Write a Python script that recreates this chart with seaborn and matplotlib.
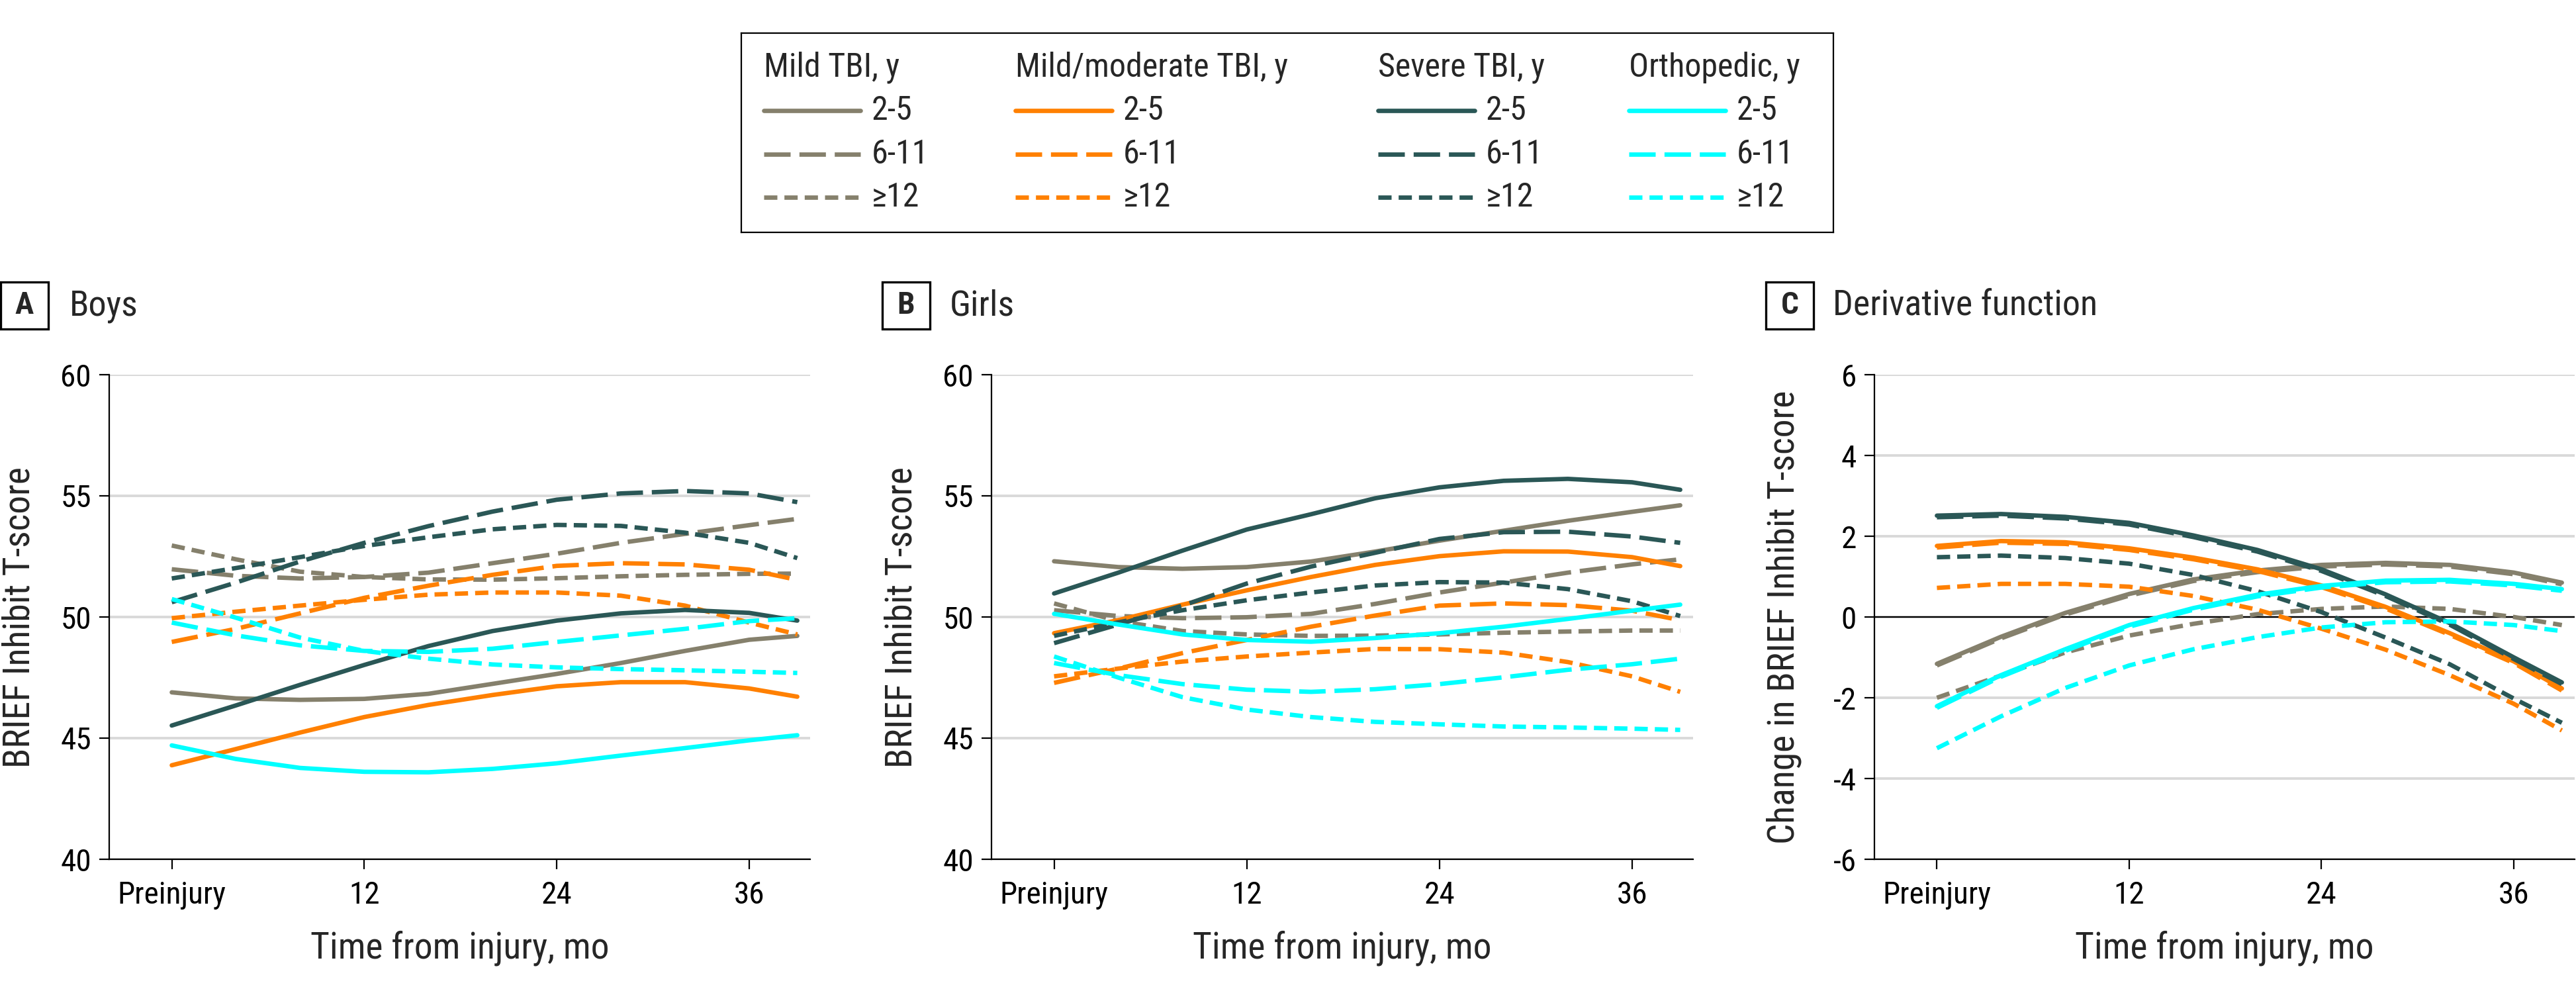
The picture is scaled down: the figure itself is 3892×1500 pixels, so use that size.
#!/usr/bin/env python
# coding: utf-8
"""BRIEF Inhibit T-score trajectories by injury group and age at injury."""

import pandas as pd
import seaborn as sns
from matplotlib import pyplot as plt
from matplotlib import font_manager
from matplotlib.patches import Rectangle

MONTHS = [0, 4, 8, 12, 16, 20, 24, 28, 32, 36, 39]
GROUPS = ["Mild TBI", "Mild/moderate TBI", "Severe TBI", "Orthopedic"]
AGES = ["2-5", "6-11", "≥12"]
XTICKS = [0, 12, 24, 36]
XTICKLABELS = ["Preinjury", "12", "24", "36"]

# panel A, boys
boys_mild_2_5 = [46.89, 46.64, 46.58, 46.62, 46.83, 47.24, 47.65, 48.10, 48.60, 49.06, 49.22]
boys_mild_6_11 = [51.97, 51.70, 51.59, 51.65, 51.83, 52.22, 52.61, 53.06, 53.43, 53.79, 54.05]
boys_mild_12 = [52.95, 52.38, 51.87, 51.65, 51.55, 51.54, 51.60, 51.68, 51.74, 51.78, 51.79]
boys_mm_2_5 = [43.88, 44.55, 45.23, 45.87, 46.37, 46.78, 47.14, 47.31, 47.31, 47.05, 46.71]
boys_mm_6_11 = [48.97, 49.51, 50.15, 50.79, 51.29, 51.74, 52.11, 52.22, 52.17, 51.95, 51.53]
boys_mm_12 = [49.95, 50.22, 50.47, 50.71, 50.92, 51.01, 51.01, 50.88, 50.47, 49.77, 49.28]
boys_sev_2_5 = [45.52, 46.35, 47.20, 48.02, 48.80, 49.42, 49.85, 50.15, 50.29, 50.17, 49.85]
boys_sev_6_11 = [50.61, 51.42, 52.29, 53.06, 53.75, 54.35, 54.84, 55.10, 55.20, 55.10, 54.74]
boys_sev_12 = [51.59, 52.02, 52.47, 52.93, 53.29, 53.62, 53.80, 53.76, 53.48, 53.06, 52.43]
boys_orth_2_5 = [44.70, 44.14, 43.77, 43.61, 43.59, 43.73, 43.96, 44.28, 44.59, 44.91, 45.12]
boys_orth_6_11 = [49.77, 49.24, 48.83, 48.60, 48.56, 48.69, 48.97, 49.24, 49.51, 49.83, 49.95]
boys_orth_12 = [50.74, 49.97, 49.15, 48.60, 48.28, 48.04, 47.92, 47.85, 47.80, 47.74, 47.69]

# panel B, girls
girls_mild_2_5 = [52.30, 52.06, 51.99, 52.06, 52.29, 52.70, 53.15, 53.56, 53.97, 54.34, 54.61]
girls_mild_6_11 = [50.28, 50.04, 49.95, 49.99, 50.13, 50.54, 51.01, 51.42, 51.83, 52.17, 52.38]
girls_mild_12 = [50.56, 49.83, 49.42, 49.28, 49.22, 49.23, 49.28, 49.35, 49.40, 49.44, 49.44]
girls_mm_2_5 = [49.33, 49.87, 50.51, 51.10, 51.65, 52.15, 52.51, 52.71, 52.70, 52.47, 52.10]
girls_mm_6_11 = [47.28, 47.87, 48.51, 49.05, 49.60, 50.06, 50.47, 50.56, 50.49, 50.26, 49.87]
girls_mm_12 = [47.55, 47.87, 48.16, 48.37, 48.53, 48.68, 48.67, 48.53, 48.14, 47.55, 46.91]
girls_sev_2_5 = [50.97, 51.83, 52.74, 53.61, 54.24, 54.90, 55.35, 55.62, 55.70, 55.56, 55.25]
girls_sev_6_11 = [48.92, 49.69, 50.47, 51.38, 52.08, 52.65, 53.22, 53.50, 53.52, 53.32, 53.06]
girls_sev_12 = [49.22, 49.78, 50.28, 50.69, 51.01, 51.30, 51.44, 51.42, 51.15, 50.65, 50.04]
girls_orth_2_5 = [50.13, 49.69, 49.28, 49.05, 48.98, 49.13, 49.33, 49.60, 49.92, 50.26, 50.51]
girls_orth_6_11 = [48.10, 47.60, 47.23, 47.00, 46.91, 47.02, 47.23, 47.51, 47.82, 48.05, 48.28]
girls_orth_12 = [48.37, 47.50, 46.69, 46.18, 45.87, 45.67, 45.57, 45.48, 45.44, 45.39, 45.34]

# panel C, derivative function
deriv_mild_2_5 = [-1.16, -0.49, 0.10, 0.57, 0.93, 1.15, 1.29, 1.34, 1.29, 1.10, 0.85]
deriv_mild_6_11 = [-1.20, -0.53, 0.06, 0.53, 0.89, 1.11, 1.25, 1.30, 1.25, 1.06, 0.81]
deriv_mild_12 = [-2.00, -1.45, -0.88, -0.46, -0.17, 0.07, 0.20, 0.26, 0.20, 0.00, -0.20]
deriv_mm_2_5 = [1.76, 1.88, 1.85, 1.70, 1.47, 1.18, 0.78, 0.25, -0.40, -1.10, -1.77]
deriv_mm_6_11 = [1.72, 1.84, 1.81, 1.66, 1.43, 1.14, 0.74, 0.21, -0.44, -1.14, -1.82]
deriv_mm_12 = [0.72, 0.82, 0.82, 0.75, 0.52, 0.18, -0.29, -0.81, -1.44, -2.15, -2.81]
deriv_sev_2_5 = [2.51, 2.55, 2.48, 2.33, 2.02, 1.66, 1.18, 0.56, -0.15, -1.00, -1.62]
deriv_sev_6_11 = [2.47, 2.51, 2.44, 2.29, 1.98, 1.62, 1.14, 0.52, -0.19, -1.04, -1.66]
deriv_sev_12 = [1.48, 1.52, 1.46, 1.32, 1.04, 0.64, 0.12, -0.51, -1.17, -2.02, -2.62]
deriv_orth_2_5 = [-2.21, -1.44, -0.80, -0.20, 0.22, 0.55, 0.77, 0.90, 0.92, 0.82, 0.69]
deriv_orth_6_11 = [-2.25, -1.48, -0.84, -0.24, 0.18, 0.51, 0.73, 0.86, 0.88, 0.78, 0.65]
deriv_orth_12 = [-3.25, -2.46, -1.76, -1.20, -0.80, -0.50, -0.26, -0.13, -0.11, -0.20, -0.35]

PALETTE = {"Mild TBI": "#85806c", "Mild/moderate TBI": "#ff8000",
           "Severe TBI": "#2a5756", "Orthopedic": "#00ffff"}
DASHES = {"2-5": "", "6-11": (6, 2), "≥12": (3, 1.6)}
LW = 2.4

curves = {
    "A": [boys_mild_2_5, boys_mild_6_11, boys_mild_12,
          boys_mm_2_5, boys_mm_6_11, boys_mm_12,
          boys_sev_2_5, boys_sev_6_11, boys_sev_12,
          boys_orth_2_5, boys_orth_6_11, boys_orth_12],
    "B": [girls_mild_2_5, girls_mild_6_11, girls_mild_12,
          girls_mm_2_5, girls_mm_6_11, girls_mm_12,
          girls_sev_2_5, girls_sev_6_11, girls_sev_12,
          girls_orth_2_5, girls_orth_6_11, girls_orth_12],
    "C": [deriv_mild_2_5, deriv_mild_6_11, deriv_mild_12,
          deriv_mm_2_5, deriv_mm_6_11, deriv_mm_12,
          deriv_sev_2_5, deriv_sev_6_11, deriv_sev_12,
          deriv_orth_2_5, deriv_orth_6_11, deriv_orth_12],
}

rows = []
for panel, series in curves.items():
    i = 0
    for group in GROUPS:
        for age in AGES:
            for m, v in zip(MONTHS, series[i]):
                rows.append({"panel": panel, "group": group, "age": age,
                             "month": m, "value": v})
            i += 1
df = pd.DataFrame(rows)

sns.set_style("ticks")
# a narrow face if one is installed, otherwise DejaVu condensed/regular
installed = {f.name for f in font_manager.fontManager.ttflist}
families = [f for f in ["Roboto Condensed", "Liberation Sans Narrow",
                        "Open Sans Condensed"] if f in installed]
plt.rcParams["font.family"] = families + ["DejaVu Sans"]
plt.rcParams["font.stretch"] = "condensed"
plt.rcParams["axes.unicode_minus"] = False

W, H = 3892, 1500
fig = plt.figure(figsize=(W / 200, H / 200), dpi=200)

# key, title, axes left/right px, letter box x, title x, y label centre x
panels = [
    ("A", "Boys", 165, 1224, 1, 105, 29, "BRIEF Inhibit T-score"),
    ("B", "Girls", 1498, 2558, 1333, 1435, 1362, "BRIEF Inhibit T-score"),
    ("C", "Derivative function", 2832, 3890, 2668, 2769, 2695,
     "Change in BRIEF Inhibit T-score"),
]
top, bottom = 566, 1298

for key, title, left, right, boxx, titlex, labx, ylab in panels:
    ax = fig.add_axes([left / W, 1 - bottom / H, (right - left) / W,
                       (bottom - top) / H])
    sns.lineplot(data=df[df["panel"] == key], x="month", y="value",
                 hue="group", style="age", hue_order=GROUPS, style_order=AGES,
                 palette=PALETTE, dashes=DASHES, linewidth=LW,
                 errorbar=None, legend=False, ax=ax)
    ax.set_xlim(-3.9, 39.8)
    ax.set_xticks(XTICKS)
    ax.set_xticklabels(XTICKLABELS)
    if key == "C":
        ax.set_ylim(-6, 6)
        ax.set_yticks(range(-6, 7, 2))
        ax.axhline(0, color="black", lw=0.8, zorder=1.5)
    else:
        ax.set_ylim(40, 60)
        ax.set_yticks(range(40, 61, 5))
    ax.set_axisbelow(True)
    ax.grid(axis="y", color="#d9d9d9", lw=1.4)
    for s in ["top", "right"]:
        ax.spines[s].set_visible(False)
    for s in ["left", "bottom"]:
        ax.spines[s].set_color("black")
        ax.spines[s].set_linewidth(0.8)
    ax.tick_params(axis="both", direction="out", length=5.5, width=0.8,
                   colors="black", labelsize=17)
    ax.tick_params(axis="y", pad=4.3)
    ax.tick_params(axis="x", pad=6)
    ax.set_xlabel("Time from injury, mo", fontsize=20)
    ax.set_ylabel(ylab, fontsize=20)
    ax.xaxis.label.set_va("center")
    ax.xaxis.set_label_coords(0.5, -134 / (bottom - top))
    ax.yaxis.label.set_va("center")
    ax.yaxis.set_label_coords((labx - left) / (right - left), 0.5)

    # panel letter box and title
    fig.add_artist(Rectangle((boxx / W, 1 - 497 / H), 72 / W, 71 / H,
                             transform=fig.transFigure, facecolor="white",
                             edgecolor="black", lw=1.2))
    fig.text((boxx + 36) / W, 1 - 461 / H, key, ha="center", va="center",
             fontsize=17, fontweight="bold")
    fig.text(titlex / W, 1 - 462 / H, title, ha="left", va="center",
             fontsize=19.5)

# legend box drawn in its own axes, pixel coordinates
lax = fig.add_axes([1120 / W, 1 - 351 / H, 1650 / W, 301 / H])
lax.set_xlim(1120, 2770)
lax.set_ylim(351, 50)
lax.set_xticks([])
lax.set_yticks([])
for s in lax.spines.values():
    s.set_color("black")
    s.set_linewidth(0.8)
col_x = [1154, 1534, 2082, 2461]
row_y = [167, 233, 298]
for group, x0 in zip(GROUPS, col_x):
    lax.text(x0, 102, group + ", y", ha="left", va="center", fontsize=18)
    for age, y0 in zip(AGES, row_y):
        line, = lax.plot([x0, x0 + 146], [y0, y0], color=PALETTE[group],
                         lw=LW)
        if DASHES[age]:
            line.set_dashes(DASHES[age])
        lax.text(x0 + 163, y0, age, ha="left", va="center", fontsize=18)

fig.savefig("out.png", dpi=200)
plt.close()
